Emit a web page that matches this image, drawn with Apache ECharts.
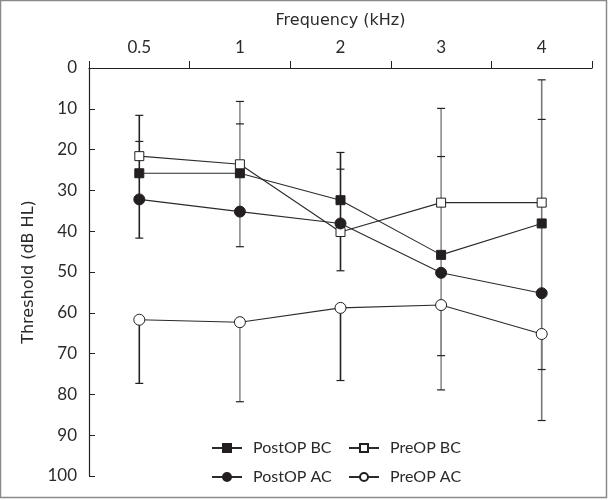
<!DOCTYPE html>
<html>
<head>
<meta charset="utf-8">
<script src="https://cdn.jsdelivr.net/npm/echarts@6/dist/echarts.min.js"></script>
<style>html,body{margin:0;padding:0;background:#fff}#c{width:608px;height:500px}</style>
</head>
<body>
<div id="c"></div>
<script>
// ---- data ----
const categories = ['0.5', '1', '2', '3', '4'];
const yTicks = [0, 10, 20, 30, 40, 50, 60, 70, 80, 90, 100];
const postBC = [25.8, 25.8, 32.4, 45.8, 38.1];
const preBC  = [21.6, 23.6, 40.2, 33.0, 33.0];
const postAC = [32.2, 35.2, 38.1, 50.2, 55.2];
const preAC  = [61.7, 62.3, 58.8, 58.1, 65.2];
// error bar ends (caps)
const errPreBC  = [11.6, 8.2, 20.7, 9.9, 2.9];
const errPostBC = [18.0, 13.7, 24.8, 21.7, 12.6];
const errPostAC = [41.7, 43.8, 49.7, 70.5, 73.9];
const errPreAC  = [77.3, 81.8, 76.6, 78.9, 86.4];

// ---- styles ----
const barColors = ['#222222', '#8c8c8c', '#222222', '#8c8c8c', '#777777'];
const txt = '#2a2a2a';
const font = 'Lato, "Noto Sans", sans-serif';
const nameFont = '"DejaVu Sans", sans-serif';

const chart = echarts.init(document.getElementById('c'));

const errData = categories.map((c, i) => [i, errPreBC[i], postAC[i], errPostBC[i], errPostAC[i], preAC[i], errPreAC[i]]);

function renderErr(params, api) {
  const i = api.value(0);
  const col = barColors[i];
  const p = k => api.coord([i, api.value(k)]);
  const seg = (a, b) => ({
    type: 'line', shape: { x1: a[0], y1: a[1], x2: b[0], y2: b[1] },
    style: { stroke: col, lineWidth: 1.6 }
  });
  const cap = a => ({
    type: 'line', shape: { x1: a[0] - 4, y1: a[1], x2: a[0] + 4, y2: a[1] },
    style: { stroke: '#222', lineWidth: 1.2 }
  });
  return {
    type: 'group',
    children: [
      seg(p(1), p(2)), seg(p(2), p(4)), seg(p(5), p(6)),
      cap(p(1)), cap(p(3)), cap(p(4)), cap(p(6))
    ]
  };
}

const lineBase = {
  type: 'line', z: 3,
  lineStyle: { color: '#2b2b2b', width: 1.1 },
  emphasis: { disabled: true },
  animation: false
};

function legendAt(name, left, top) {
  return {
    data: [name], left: left, top: top, selectedMode: false,
    itemWidth: 30, itemHeight: 10,
    textStyle: { color: txt, fontSize: 16, fontFamily: font, padding: [0, 0, 0, 6] }
  };
}

chart.setOption({
  animation: false,
  backgroundColor: '#fff',
  graphic: [{
    type: 'rect', shape: { x: 0.5, y: 0.5, width: 606, height: 497 },
    style: { fill: 'none', stroke: '#8a8a8a', lineWidth: 1.5 }, silent: true
  }],
  grid: { left: 89, right: 16, top: 68, bottom: 24 },
  legend: [
    legendAt('PostOP BC', 206, 435),
    legendAt('PreOP BC', 343, 435),
    legendAt('PostOP AC', 206, 464),
    legendAt('PreOP AC', 343, 464)
  ],
  xAxis: {
    type: 'category', data: categories, position: 'top', boundaryGap: true,
    name: 'Frequency (kHz)', nameLocation: 'middle', nameGap: 39,
    nameTextStyle: { color: txt, fontSize: 16, fontFamily: nameFont },
    axisLine: { lineStyle: { color: '#222', width: 1.2 } },
    axisTick: { show: true, inside: false, length: 7, alignWithLabel: false, lineStyle: { color: '#222' } },
    axisLabel: { color: txt, fontSize: 17, fontFamily: font, margin: 12 },
    splitLine: { show: false }
  },
  yAxis: {
    type: 'value', inverse: true, min: yTicks[0], max: yTicks[yTicks.length - 1], interval: 10,
    name: 'Threshold (dB HL)', nameLocation: 'middle', nameGap: 52, nameRotate: 90,
    nameTextStyle: { color: txt, fontSize: 16, fontFamily: nameFont },
    axisLine: { show: true, lineStyle: { color: '#222', width: 1.2 } },
    axisTick: { show: true, inside: true, length: 6, lineStyle: { color: '#222' } },
    axisLabel: { color: txt, fontSize: 17, fontFamily: font, margin: 12 },
    splitLine: { show: false }
  },
  series: [
    {
      type: 'custom', name: 'err', z: 1, renderItem: renderErr, data: errData,
      silent: true, animation: false
    },
    Object.assign({}, lineBase, {
      name: 'PostOP BC', data: postBC, symbol: 'rect', symbolSize: 9,
      itemStyle: { color: '#231f20', borderColor: '#231f20', borderWidth: 1 }
    }),
    Object.assign({}, lineBase, {
      name: 'PreOP BC', data: preBC, symbol: 'rect', symbolSize: 9,
      itemStyle: { color: '#ffffff', borderColor: '#231f20', borderWidth: 1 }
    }),
    Object.assign({}, lineBase, {
      name: 'PostOP AC', data: postAC, symbol: 'circle', symbolSize: 11,
      itemStyle: { color: '#231f20', borderColor: '#231f20', borderWidth: 1 }
    }),
    Object.assign({}, lineBase, {
      name: 'PreOP AC', data: preAC, symbol: 'circle', symbolSize: 11,
      itemStyle: { color: '#ffffff', borderColor: '#231f20', borderWidth: 1 }
    })
  ]
});
</script>
</body>
</html>
